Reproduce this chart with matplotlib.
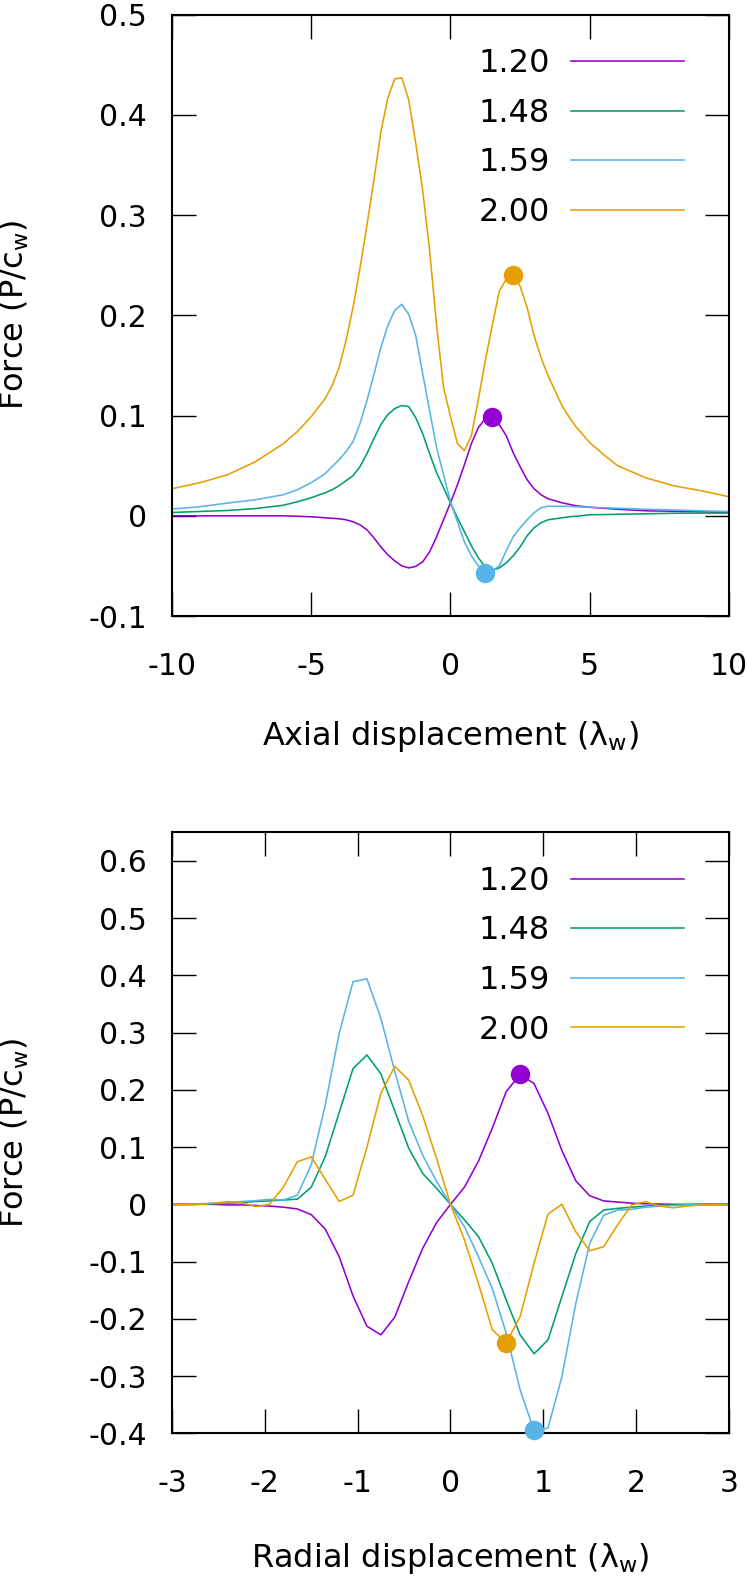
import numpy as np
import matplotlib.pyplot as plt

plt.rcParams['font.family'] = 'DejaVu Sans'
plt.rcParams['axes.unicode_minus'] = False
plt.rcParams['mathtext.fontset'] = 'dejavusans'

labels = ['1.20', '1.48', '1.59', '2.00']
colors = ['#9400D3', '#009E73', '#56B4E9', '#E69F00']

# axial scan
x_ax = [-10, -9, -8, -7, -6, -5.5, -5, -4.5, -4.25, -4, -3.75, -3.5, -3.25, -3,
        -2.75, -2.5, -2.25, -2, -1.75, -1.5, -1.25, -1, -0.75, -0.5, -0.25, 0,
        0.25, 0.5, 0.75, 1, 1.25, 1.5, 1.75, 2, 2.25, 2.5, 2.75, 3, 3.25, 3.5,
        3.75, 4, 4.25, 4.5, 5, 5.5, 6, 7, 8, 9, 10]
ax_120 = [0.0, 0.0, 0.0, 0.0, 0.0, -0.0005, -0.001, -0.002, -0.0025, -0.003,
          -0.004, -0.006, -0.009, -0.014, -0.022, -0.031, -0.039, -0.045, -0.050,
          -0.052, -0.0505, -0.046, -0.036, -0.021, -0.004, 0.013, 0.031, 0.051,
          0.072, 0.088, 0.097, 0.0985, 0.091, 0.080, 0.063, 0.049, 0.036, 0.027,
          0.021, 0.017, 0.015, 0.013, 0.0115, 0.010, 0.0085, 0.0075, 0.0065,
          0.005, 0.0045, 0.004, 0.0033]
ax_148 = [0.0033, 0.0043, 0.0053, 0.0072, 0.0105, 0.014, 0.018, 0.023, 0.026,
          0.030, 0.035, 0.040, 0.049, 0.062, 0.077, 0.091, 0.101, 0.107, 0.110,
          0.109, 0.098, 0.082, 0.062, 0.043, 0.028, 0.0127, -0.002, -0.016,
          -0.030, -0.042, -0.051, -0.0545, -0.052, -0.047, -0.040, -0.031, -0.020,
          -0.012, -0.007, -0.004, -0.003, -0.002, -0.001, -0.0005, 0.001, 0.0012,
          0.0015, 0.002, 0.0025, 0.0027, 0.0027]
ax_159 = [0.0067, 0.009, 0.0127, 0.016, 0.021, 0.026, 0.033, 0.042, 0.049, 0.056,
          0.064, 0.074, 0.092, 0.115, 0.141, 0.168, 0.190, 0.205, 0.211, 0.201,
          0.180, 0.142, 0.105, 0.068, 0.041, 0.014, -0.006, -0.026, -0.040, -0.050,
          -0.0566, -0.055, -0.050, -0.035, -0.021, -0.012, -0.004, 0.003, 0.008,
          0.0095, 0.0095, 0.0095, 0.0093, 0.009, 0.0085, 0.008, 0.0075, 0.0065,
          0.0058, 0.005, 0.0043]
ax_200 = [0.027, 0.033, 0.041, 0.054, 0.072, 0.084, 0.099, 0.117, 0.130, 0.148,
          0.175, 0.208, 0.247, 0.290, 0.335, 0.383, 0.417, 0.436, 0.437, 0.415,
          0.372, 0.325, 0.265, 0.190, 0.128, 0.099, 0.072, 0.065, 0.080, 0.116,
          0.155, 0.190, 0.224, 0.236, 0.2405, 0.229, 0.208, 0.180, 0.158, 0.140,
          0.125, 0.110, 0.099, 0.089, 0.073, 0.061, 0.050, 0.038, 0.030, 0.025,
          0.019]
ax_marks = [1.5, None, 1.25, 2.25]

# radial scan
x_rad = [-3.0, -2.85, -2.7, -2.55, -2.4, -2.25, -2.1, -1.95, -1.8, -1.65, -1.5,
         -1.35, -1.2, -1.05, -0.9, -0.75, -0.6, -0.45, -0.3, -0.15, 0.0, 0.15,
         0.3, 0.45, 0.6, 0.75, 0.9, 1.05, 1.2, 1.35, 1.5, 1.65, 1.8, 1.95, 2.1,
         2.25, 2.4, 2.55, 2.7, 2.85, 3.0]
rad_120 = [0.0, 0.0, 0.0, 0.0, -0.001, -0.001, -0.002, -0.003, -0.005, -0.008,
           -0.018, -0.043, -0.091, -0.160, -0.213, -0.228, -0.197, -0.135, -0.077,
           -0.032, 0.0, 0.030, 0.075, 0.133, 0.197, 0.227, 0.211, 0.159, 0.094,
           0.041, 0.015, 0.006, 0.004, 0.002, 0.001, 0.0005, 0.0, 0.0, 0.0, 0.0, 0.0]
rad_148 = [0.0, 0.0, 0.001, 0.001, 0.002, 0.003, 0.005, 0.006, 0.0076, 0.009,
           0.030, 0.083, 0.160, 0.237, 0.261, 0.228, 0.163, 0.098, 0.054, 0.028,
           0.0, -0.027, -0.056, -0.103, -0.167, -0.228, -0.261, -0.237, -0.161,
           -0.086, -0.030, -0.010, -0.007, -0.005, -0.003, -0.002, -0.001, -0.001,
           0.0, 0.0, 0.0]
rad_159 = [0.0, 0.0, 0.001, 0.002, 0.003, 0.005, 0.0064, 0.0087, 0.0076, 0.016,
           0.069, 0.173, 0.298, 0.389, 0.394, 0.325, 0.232, 0.145, 0.086, 0.040,
           0.0, -0.039, -0.091, -0.147, -0.225, -0.324, -0.395, -0.391, -0.301,
           -0.173, -0.068, -0.019, -0.010, -0.0087, -0.005, -0.003, -0.002, -0.001,
           -0.001, 0.0, 0.0]
rad_200 = [0.0, 0.0, 0.0, 0.002, 0.0047, 0.003, -0.004, 0.0, 0.030, 0.0745, 0.083,
           0.044, 0.005, 0.016, 0.100, 0.194, 0.241, 0.217, 0.155, 0.080, 0.0,
           -0.062, -0.138, -0.219, -0.242, -0.196, -0.103, -0.017, 0.0, -0.048,
           -0.081, -0.074, -0.036, -0.001, 0.0047, -0.003, -0.006, -0.003, -0.001,
           -0.001, -0.001]
rad_marks = [0.75, None, 0.9, 0.6]

W, H = 747, 1576
fig = plt.figure(figsize=(W / 100, H / 100), dpi=100)
ax1 = fig.add_axes([172 / W, 1 - 616 / H, 557 / W, 601.3 / H])
ax2 = fig.add_axes([172 / W, 1 - 1433.3 / H, 557 / W, 601 / H])

fs = 21.5   # tick labels
fl = 23     # axis labels and key


def draw(ax, x, series, marks, xlim, ylim, xticks, yticks, xlabel, xlab_y):
    for ys, lab, c in zip(series, labels, colors):
        ax.plot(x, ys, color=c, lw=1.15, label=lab)
    for ys, c, m in zip(series, colors, marks):
        if m is not None:
            ax.plot([m], [ys[x.index(m)]], 'o', color=c, ms=13, clip_on=False,
                    zorder=5)
    ax.set_xlim(*xlim)
    ax.set_ylim(*ylim)
    ax.set_xticks(xticks)
    ax.set_yticks(yticks)
    ax.set_xticklabels(['%g' % t for t in xticks])
    ax.set_yticklabels(['%g' % t for t in yticks])
    ax.tick_params(direction='in', length=17, width=1.0, top=True, right=True,
                   labelsize=fs)
    ax.tick_params(axis='x', pad=26)
    ax.tick_params(axis='y', pad=18)
    for s in ax.spines.values():
        s.set_linewidth(1.5)
    ax.set_ylabel('Force (P/c$_\\mathrm{w}$)', fontsize=fl)
    ax.yaxis.set_label_coords(-0.253, 0.5)
    ax.set_xlabel(xlabel, fontsize=fl)
    ax.xaxis.set_label_coords(0.5, xlab_y)
    ax.legend(loc='upper right', bbox_to_anchor=(0.919, 0.944), frameon=False,
              markerfirst=False, fontsize=fl, handlelength=3.54,
              handletextpad=0.66, labelspacing=0.58, borderpad=0,
              borderaxespad=0)


draw(ax1, x_ax, [ax_120, ax_148, ax_159, ax_200], ax_marks, (-10, 10),
     (-0.1, 0.5), [-10, -5, 0, 5, 10], [-0.1, 0, 0.1, 0.2, 0.3, 0.4, 0.5],
     'Axial displacement (λ$_\\mathrm{w}$)', -0.172)
draw(ax2, x_rad, [rad_120, rad_148, rad_159, rad_200], rad_marks, (-3, 3),
     (-0.4, 0.65), [-3, -2, -1, 0, 1, 2, 3],
     [-0.4, -0.3, -0.2, -0.1, 0, 0.1, 0.2, 0.3, 0.4, 0.5, 0.6],
     'Radial displacement (λ$_\\mathrm{w}$)', -0.18)

fig.savefig('out.png', dpi=100)
